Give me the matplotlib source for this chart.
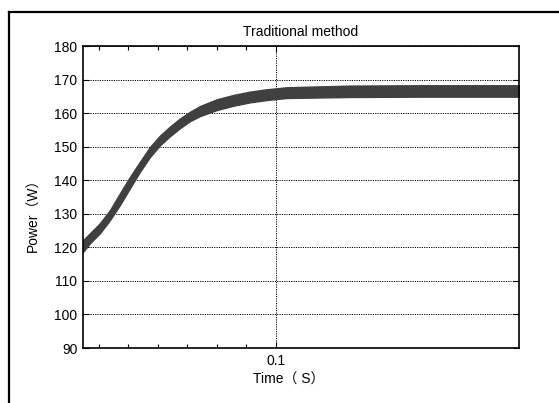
import matplotlib.pyplot as plt
from matplotlib.lines import Line2D

plt.rcParams["font.family"] = ["Liberation Sans", "Noto Sans CJK SC"]

# power band (time in s, lower / upper edge in W)
time_s = [0.03468, 0.03695, 0.04034, 0.04373, 0.04712, 0.05051, 0.05390,
          0.05729, 0.06068, 0.06407, 0.06746, 0.07085, 0.07424, 0.07990,
          0.08553, 0.09119, 0.09685, 0.10363, 0.12508, 0.14881, 0.18237]
power_low = [118.7, 121.2, 124.2, 128.1, 132.6, 137.6, 142.5,
             146.9, 150.4, 153.1, 155.5, 157.6, 159.1, 160.9,
             162.2, 163.2, 163.9, 164.5, 164.8, 164.9, 164.9]
power_high = [122.2, 124.2, 127.2, 131.1, 136.1, 141.0, 145.5,
              149.9, 153.3, 156.0, 158.4, 160.4, 162.1, 164.1,
              165.4, 166.4, 167.1, 167.7, 168.2, 168.3, 168.3]

y_ticks = list(range(90, 181, 10))
x_minor = [0.04, 0.05, 0.06, 0.07, 0.08, 0.09]

fig = plt.figure(figsize=(5.59, 4.03), dpi=100)
ax = fig.add_axes([83 / 559, 1 - 348 / 403, 436 / 559, 302 / 403])

ax.fill_between(time_s, power_low, power_high, color="#404040",
                edgecolor="#404040", lw=1.0, zorder=3)

ax.set_xlim(0.0346, 0.1824)
ax.set_ylim(90, 180)
ax.set_yticks(y_ticks)
ax.set_xticks([0.1])
ax.set_xticklabels(["0.1"])
ax.set_xticks(x_minor, minor=True)

ax.grid(True, which="major", color="black", linestyle=(0, (1.2, 1.2)), lw=0.7)
ax.tick_params(which="both", direction="in", top=True, right=True,
               labelsize=10, pad=4)
ax.tick_params(which="major", length=4, width=0.8)
ax.tick_params(which="minor", length=3, width=0.8)
for s in ax.spines.values():
    s.set_linewidth(1.2)
    s.set_zorder(4)

ax.set_title("Traditional method", fontsize=10, pad=7)
ax.set_ylabel("Power（W）", fontsize=10)
ax.set_xlabel("Time（ S）", fontsize=10)
ax.yaxis.set_label_coords(-0.097, 0.45)
ax.xaxis.set_label_coords(0.472, -0.083)

# outer frame of the original figure
fig.add_artist(Line2D([9 / 559, 9 / 559], [0, 1 - 11.5 / 403],
                      transform=fig.transFigure, color="black", lw=1.6))
fig.add_artist(Line2D([9 / 559, 1], [1 - 11.5 / 403, 1 - 11.5 / 403],
                      transform=fig.transFigure, color="black", lw=1.6))

fig.savefig("out.png", dpi=100)
plt.close(fig)
